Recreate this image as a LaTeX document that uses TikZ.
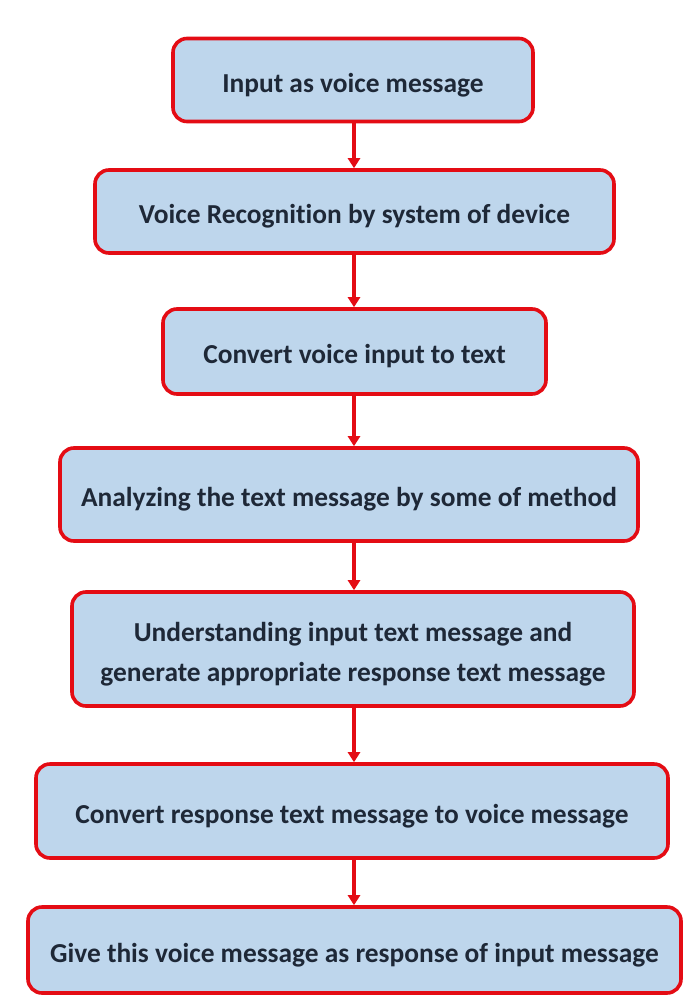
\documentclass[tikz,border=0pt]{standalone}
\usepackage{fontspec}
\setmainfont{Carlito}[Ligatures=NoCommon]
\usetikzlibrary{arrows.meta}
\definecolor{boxfill}{RGB}{190,214,236}
\definecolor{boxred}{RGB}{228,12,20}
\definecolor{txt}{RGB}{30,40,55}
\newcommand{\lowtext}[1]{\raisebox{-4pt}[\height][\depth]{\begin{tabular}{@{}c@{}}#1\end{tabular}}}
\tikzset{
  stepbox/.style={draw=boxred, line width=3.6pt, fill=boxfill, rounded corners=14pt,
    inner sep=0pt, align=center, text=txt, font=\bfseries\fontsize{27.4}{40}\selectfont},
  flow/.style={draw=boxred, line width=3.2pt, -{Triangle[length=10pt,width=12pt]}}
}
\begin{document}
\begin{tikzpicture}[x=1pt,y=-1pt]
\useasboundingbox (0,0) rectangle (697,996);
\fill[white] (0,0) rectangle (697,996);
\node[stepbox, minimum width=360pt, minimum height=83pt] (n1) at (353,80) {\lowtext{Input as voice message}};
\node[stepbox, minimum width=519pt, minimum height=83pt] (n2) at (354.5,211.5) {\lowtext{Voice Recognition by system of device}};
\node[stepbox, minimum width=383pt, minimum height=85pt] (n3) at (354.5,351.5) {\lowtext{Convert voice input to text}};
\node[stepbox, minimum width=578pt, minimum height=93pt] (n4) at (349,494.5) {\lowtext{Analyzing the text message by some of method}};
\node[stepbox, minimum width=562pt, minimum height=114pt] (n5) at (353,649) {\lowtext{Understanding input text message and\\generate appropriate response text message}};
\node[stepbox, minimum width=632pt, minimum height=94pt] (n6) at (352,811) {\lowtext{Convert response text message to voice message}};
\node[stepbox, minimum width=653pt, minimum height=86pt] (n7) at (354.5,950) {\lowtext{Give this voice message as response of input message}};
\draw[flow] (n1.south -| 354,0) -- (n2.north -| 354,0);
\draw[flow] (n2.south -| 354,0) -- (n3.north -| 354,0);
\draw[flow] (n3.south -| 354,0) -- (n4.north -| 354,0);
\draw[flow] (n4.south -| 354,0) -- (n5.north -| 354,0);
\draw[flow] (n5.south -| 354,0) -- (n6.north -| 354,0);
\draw[flow] (n6.south -| 354,0) -- (n7.north -| 354,0);
\end{tikzpicture}
\end{document}
